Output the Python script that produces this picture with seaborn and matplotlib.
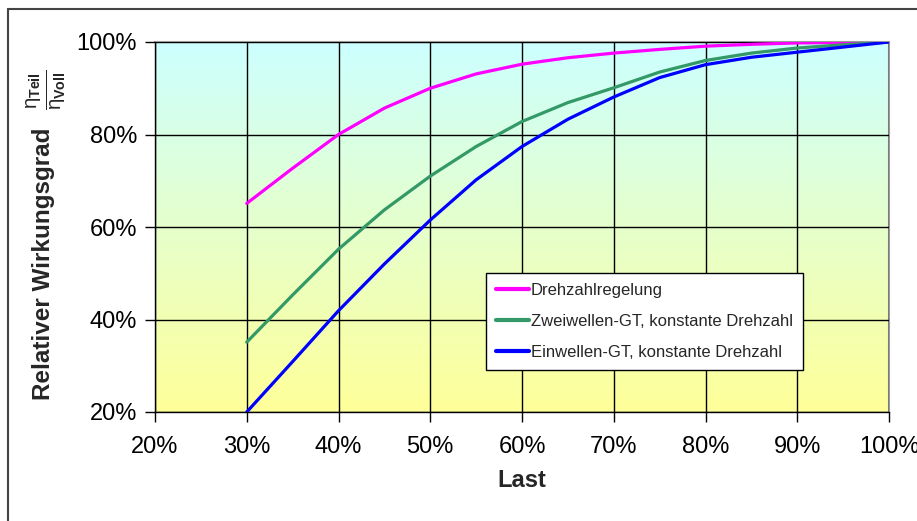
import numpy as np
import pandas as pd
import seaborn as sns
import matplotlib.pyplot as plt
from matplotlib.colors import LinearSegmentedColormap
from matplotlib.lines import Line2D
from matplotlib.ticker import FuncFormatter

# Last in %, relativer Wirkungsgrad in %
last = [30, 35, 40, 45, 50, 55, 60, 65, 70, 75, 80, 85, 90, 95, 100]
drehzahl = [65.1, 72.7, 80.0, 85.7, 90.0, 93.1, 95.2, 96.6, 97.6, 98.4, 99.1, 99.5, 99.8, 99.9, 100.0]
zweiwellen = [35.1, 45.3, 55.2, 63.7, 71.0, 77.4, 82.8, 86.9, 90.1, 93.5, 96.0, 97.6, 98.7, 99.4, 100.0]
einwellen = [20.0, 30.9, 41.9, 52.0, 61.5, 70.2, 77.4, 83.3, 88.1, 92.3, 95.1, 96.7, 97.8, 98.9, 100.0]

series = ['Drehzahlregelung', 'Zweiwellen-GT, konstante Drehzahl', 'Einwellen-GT, konstante Drehzahl']
colors = ['#FF00FF', '#339966', '#0000FF']
x_ticks = [20, 30, 40, 50, 60, 70, 80, 90, 100]
y_ticks = [20, 40, 60, 80, 100]

df = pd.DataFrame({
    'Last': last * 3,
    'Wirkungsgrad': drehzahl + zweiwellen + einwellen,
    'Kurve': [series[0]] * len(last) + [series[1]] * len(last) + [series[2]] * len(last),
})

sns.set_theme(style='white')
plt.rcParams['font.family'] = ['Liberation Sans', 'DejaVu Sans']
plt.rcParams['mathtext.fontset'] = 'custom'
plt.rcParams['mathtext.rm'] = 'Liberation Sans'
plt.rcParams['mathtext.bf'] = 'Liberation Sans:bold'
plt.rcParams['mathtext.it'] = 'Liberation Sans'

fig = plt.figure(figsize=(9.17, 5.21), dpi=100)
ax = fig.add_axes([155 / 917, 1 - 412 / 521, 734 / 917, 370 / 521])

# gradient background (yellow bottom -> cyan top)
grad = np.linspace(0, 1, 256).reshape(-1, 1)
cmap = LinearSegmentedColormap.from_list('bg', ['#FFFF99', '#CCFFFF'])
ax.imshow(grad, cmap=cmap, origin='lower', aspect='auto',
          extent=[0, 1, 0, 1], transform=ax.transAxes, zorder=0)

sns.lineplot(data=df, x='Last', y='Wirkungsgrad', hue='Kurve', palette=colors,
             linewidth=2.3, ax=ax, zorder=3, legend=False)

ax.set_xlim(20, 100)
ax.set_ylim(20, 100)
ax.set_xticks(x_ticks)
ax.set_yticks(y_ticks)
pct = FuncFormatter(lambda v, p: f'{v:.0f}%')
ax.xaxis.set_major_formatter(pct)
ax.yaxis.set_major_formatter(pct)
ax.grid(True, color='black', linewidth=1.0, zorder=1)
ax.set_axisbelow(False)
for gl in ax.get_xgridlines() + ax.get_ygridlines():
    gl.set_zorder(1)

ax.tick_params(axis='both', labelsize=17, colors='black', length=7, width=1,
               direction='out', bottom=True, left=True)
ax.tick_params(axis='x', pad=10)
ax.tick_params(axis='y', pad=6)
for s in ['left', 'bottom']:
    ax.spines[s].set_color('black')
    ax.spines[s].set_linewidth(1.0)
for s in ['top', 'right']:
    ax.spines[s].set_color('#999999')
    ax.spines[s].set_linewidth(1.5)

ax.set_xlabel('Last', fontsize=17, fontweight='bold', labelpad=8)
ax.set_ylabel('Relativer Wirkungsgrad', fontsize=17.5, fontweight='bold')
ax.yaxis.set_label_coords(-0.136, 0.4)

fig.text(46 / 917, 1 - 90 / 521,
         r'$\frac{\eta_{\mathbf{Teil}}}{\eta_{\mathbf{Voll}}}$',
         rotation=90, ha='center', va='center', fontsize=21)

handles = [Line2D([0], [0], color=c, linewidth=3) for c in colors]
leg = ax.legend(handles, series, loc='upper left', bbox_to_anchor=(0.451, 0.376),
                borderaxespad=0, fontsize=12, frameon=True, fancybox=False,
                edgecolor='black', framealpha=1, handlelength=2.0,
                handletextpad=0.1, labelspacing=0.95, borderpad=0.6)
leg.get_frame().set_linewidth(1.0)
leg.set_zorder(5)

# outer chart frame (partially cut off)
fig.add_artist(Line2D([8 / 917, 8 / 917], [0, 1 - 9 / 521], color='#444444', linewidth=1.5))
fig.add_artist(Line2D([8 / 917, 1], [1 - 9 / 521, 1 - 9 / 521], color='#444444', linewidth=1.5))

fig.savefig('out.png', dpi=100, facecolor='white')
